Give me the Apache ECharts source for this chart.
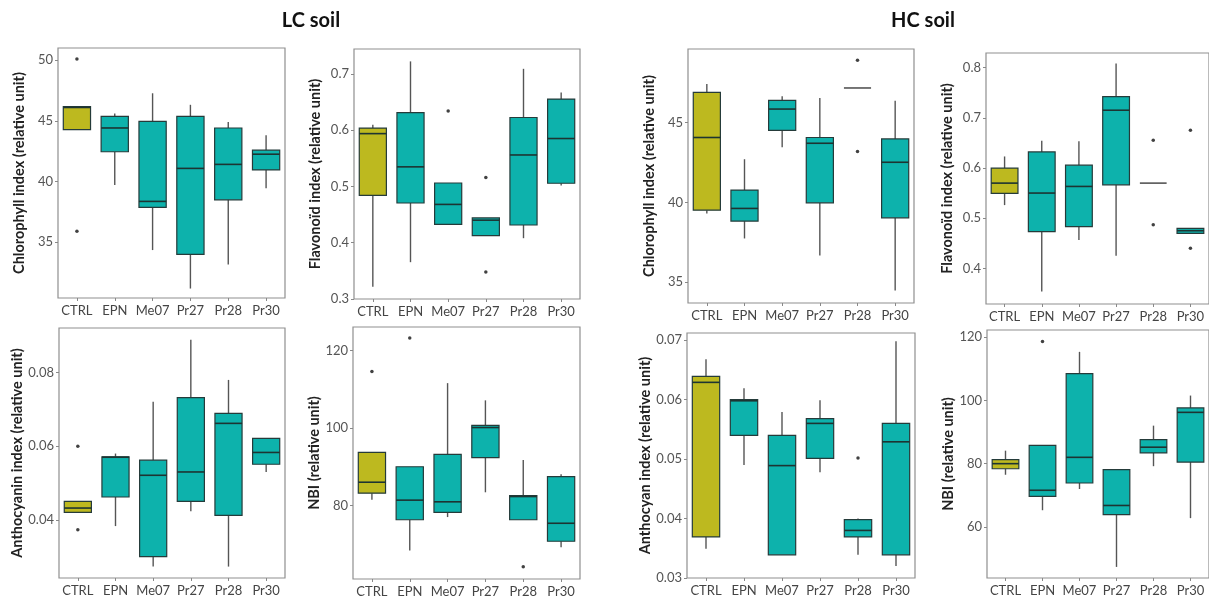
<!DOCTYPE html>
<html>
<head>
<meta charset="utf-8">
<script src="https://cdn.jsdelivr.net/npm/echarts@6/dist/echarts.min.js"></script>
<style>
html,body{margin:0;padding:0;background:#fff;}
#c{width:1209px;height:600px;}
</style>
</head>
<body>
<div id="c"></div>
<script>
// ---------- data ----------
const categories = ['CTRL', 'EPN', 'Me07', 'Pr27', 'Pr28', 'Pr30'];

// each row: [min, Q1, median, Q3, max]
const lcChlorophyll = [
  [44.27, 44.27, 46.10, 46.18, 46.18],
  [39.72, 42.45, 44.41, 45.36, 45.60],
  [34.35, 37.86, 38.36, 44.95, 47.27],
  [31.18, 33.99, 41.08, 45.36, 46.32],
  [33.17, 38.49, 41.41, 44.41, 44.90],
  [39.45, 40.95, 42.25, 42.58, 43.81]
];
const lcChlorophyllOutliers = [[0, 50.1], [0, 35.9]];
const lcChlorophyllTicks = [35, 40, 45, 50];

const lcFlavonoid = [
  [0.3216, 0.4840, 0.5937, 0.6036, 0.6095],
  [0.3654, 0.4705, 0.5347, 0.6310, 0.7220],
  [0.4326, 0.4326, 0.4680, 0.5060, 0.5060],
  [0.4127, 0.4127, 0.4400, 0.4440, 0.4440],
  [0.4080, 0.4314, 0.5558, 0.6223, 0.7088],
  [0.5015, 0.5056, 0.5850, 0.6550, 0.6667]
];
const lcFlavonoidOutliers = [[2, 0.634], [3, 0.516], [3, 0.348]];
const lcFlavonoidTicks = [0.3, 0.4, 0.5, 0.6, 0.7];

const lcAnthocyanin = [
  [0.0420, 0.0420, 0.0432, 0.0450, 0.0450],
  [0.0383, 0.0462, 0.0570, 0.0571, 0.0580],
  [0.0273, 0.0300, 0.0521, 0.0562, 0.0721],
  [0.0423, 0.0450, 0.0530, 0.0732, 0.0889],
  [0.0273, 0.0412, 0.0662, 0.0689, 0.0780],
  [0.0530, 0.0551, 0.0583, 0.0621, 0.0621]
];
const lcAnthocyaninOutliers = [[0, 0.060], [0, 0.0373]];
const lcAnthocyaninTicks = [0.04, 0.06, 0.08];

const lcNBI = [
  [81.46, 83.17, 86.00, 93.70, 93.70],
  [68.35, 76.30, 81.37, 90.00, 90.00],
  [77.00, 78.20, 80.94, 93.20, 111.6],
  [83.40, 92.33, 100.13, 100.7, 107.15],
  [76.30, 76.30, 82.30, 82.57, 91.73],
  [69.20, 70.75, 75.40, 87.45, 88.05]
];
const lcNBIOutliers = [[0, 114.6], [1, 123.25], [4, 64.15]];
const lcNBITicks = [80, 100, 120];

const hcChlorophyll = [
  [39.30, 39.51, 44.06, 46.89, 47.41],
  [37.74, 38.83, 39.62, 40.77, 42.70],
  [43.45, 44.50, 45.84, 46.38, 46.64],
  [36.68, 39.97, 43.70, 44.06, 46.53],
  [47.16, 47.16, 47.16, 47.16, 47.16],
  [34.48, 39.03, 42.51, 43.97, 46.36]
];
const hcChlorophyllOutliers = [[4, 48.9], [4, 43.18]];
const hcChlorophyllTicks = [35, 40, 45];

const hcFlavonoid = [
  [0.5260, 0.5493, 0.5698, 0.5997, 0.6229],
  [0.3540, 0.4730, 0.5500, 0.6320, 0.6540],
  [0.4564, 0.4830, 0.5632, 0.6056, 0.6530],
  [0.4250, 0.5665, 0.7150, 0.7420, 0.8080],
  [0.5698, 0.5698, 0.5698, 0.5698, 0.5698],
  [0.4697, 0.4697, 0.4750, 0.4796, 0.4796]
];
const hcFlavonoidOutliers = [[4, 0.655], [4, 0.487], [5, 0.675], [5, 0.440]];
const hcFlavonoidTicks = [0.4, 0.5, 0.6, 0.7, 0.8];

const hcAnthocyan = [
  [0.0349, 0.0369, 0.0629, 0.0639, 0.0668],
  [0.0490, 0.0540, 0.0598, 0.0600, 0.0619],
  [0.0339, 0.0339, 0.0489, 0.0540, 0.0579],
  [0.0478, 0.0501, 0.0560, 0.0568, 0.0599],
  [0.0339, 0.0369, 0.0380, 0.0398, 0.0400],
  [0.0320, 0.0339, 0.0529, 0.0560, 0.0698]
];
const hcAnthocyanOutliers = [[4, 0.0502]];
const hcAnthocyanTicks = [0.03, 0.04, 0.05, 0.06, 0.07];

const hcNBI = [
  [76.5, 78.4, 80.0, 81.26, 84.1],
  [65.3, 69.7, 71.6, 85.8, 85.8],
  [72.0, 73.9, 82.0, 108.4, 115.3],
  [47.4, 63.9, 66.8, 78.1, 78.1],
  [79.2, 83.4, 85.2, 87.6, 92.0],
  [62.8, 80.5, 96.2, 97.6, 101.5]
];
const hcNBIOutliers = [[1, 118.6]];
const hcNBITicks = [60, 80, 100, 120];

// ---------- style ----------
const OLIVE = '#bdb91f';
const TEAL = '#0db2ac';
const FONT = 'Lato';

const panels = [
  {grid: {left: 58, top: 48, width: 227, height: 250}, name: 'Chlorophyll index (relative unit)', data: lcChlorophyll, out: lcChlorophyllOutliers, ticks: lcChlorophyllTicks, range: [30.4, 51.0]},
  {grid: {left: 354, top: 49, width: 226, height: 250}, name: 'Flavonoïd index (relative unit)', data: lcFlavonoid, out: lcFlavonoidOutliers, ticks: lcFlavonoidTicks, range: [0.3, 0.744]},
  {grid: {left: 59, top: 328, width: 226, height: 250}, name: 'Anthocyanin index (relative unit)', data: lcAnthocyanin, out: lcAnthocyaninOutliers, ticks: lcAnthocyaninTicks, range: [0.0242, 0.0921]},
  {grid: {left: 353, top: 327, width: 227, height: 252}, name: 'NBI (relative unit)', data: lcNBI, out: lcNBIOutliers, ticks: lcNBITicks, range: [61.0, 126.1]},
  {grid: {left: 688, top: 49, width: 226, height: 254}, name: 'Chlorophyll index (relative unit)', data: hcChlorophyll, out: hcChlorophyllOutliers, ticks: hcChlorophyllTicks, range: [33.7, 49.6]},
  {grid: {left: 986, top: 53, width: 223, height: 251}, name: 'Flavonoïd index (relative unit)', data: hcFlavonoid, out: hcFlavonoidOutliers, ticks: hcFlavonoidTicks, range: [0.329, 0.829]},
  {grid: {left: 687, top: 333, width: 228, height: 245}, name: 'Anthocyan index (relative unit)', data: hcAnthocyan, out: hcAnthocyanOutliers, ticks: hcAnthocyanTicks, range: [0.03, 0.0712]},
  {grid: {left: 987, top: 330, width: 222, height: 248}, name: 'NBI (relative unit)', data: hcNBI, out: hcNBIOutliers, ticks: hcNBITicks, range: [43.9, 122.2]}
];

function renderBox(params, api) {
  const i = api.value(0);
  const lo = api.coord([i, api.value(1)]);
  const q1 = api.coord([i, api.value(2)]);
  const md = api.coord([i, api.value(3)]);
  const q3 = api.coord([i, api.value(4)]);
  const hi = api.coord([i, api.value(5)]);
  const w = api.size([1, 0])[0] * 0.72;
  const x = lo[0];
  const fill = i === 0 ? OLIVE : TEAL;
  const whisker = {stroke: '#555', lineWidth: 1.4};
  const children = [
    {type: 'line', shape: {x1: x, y1: hi[1], x2: x, y2: q3[1]}, style: whisker},
    {type: 'line', shape: {x1: x, y1: q1[1], x2: x, y2: lo[1]}, style: whisker}
  ];
  if (q1[1] - q3[1] > 0.5) {
    children.push({type: 'rect', shape: {x: x - w / 2, y: q3[1], width: w, height: q1[1] - q3[1]},
      style: {fill: fill, stroke: '#253b3a', lineWidth: 1.2}});
    children.push({type: 'line', shape: {x1: x - w / 2, y1: md[1], x2: x + w / 2, y2: md[1]},
      style: {stroke: '#1d3432', lineWidth: 1.6}});
  } else {
    children.push({type: 'line', shape: {x1: x - w / 2, y1: md[1], x2: x + w / 2, y2: md[1]},
      style: {stroke: '#555', lineWidth: 1.6}});
  }
  return {type: 'group', children: children};
}

const option = {
  backgroundColor: '#fff',
  animation: false,
  title: [
    {text: 'LC soil', left: 306, top: 6, textAlign: 'center', textStyle: {fontFamily: FONT, fontWeight: 'bold', fontSize: 20, color: '#111'}},
    {text: 'HC soil', left: 918, top: 6, textAlign: 'center', textStyle: {fontFamily: FONT, fontWeight: 'bold', fontSize: 20, color: '#111'}}
  ],
  grid: [], xAxis: [], yAxis: [], series: []
};

panels.forEach((p, k) => {
  option.grid.push(Object.assign({show: true, borderColor: '#8f8f8f', borderWidth: 1.2, backgroundColor: '#fff'}, p.grid));
  option.xAxis.push({
    type: 'category', gridIndex: k, data: categories,
    axisLine: {show: false},
    axisTick: {show: true, alignWithLabel: true, interval: 0, length: 3, lineStyle: {color: '#888'}},
    axisLabel: {fontFamily: FONT, fontSize: 13, color: '#444', margin: 6, interval: 0, hideOverlap: false},
    splitLine: {show: false}
  });
  option.yAxis.push({
    type: 'value', gridIndex: k, min: p.range[0], max: p.range[1],
    name: p.name, nameLocation: 'middle', nameGap: 31, nameRotate: 90,
    nameTextStyle: {fontFamily: FONT, fontWeight: 'bold', fontSize: 14.5, color: '#222'},
    axisLine: {show: false},
    axisTick: {show: true, length: 3, lineStyle: {color: '#888'}, customValues: p.ticks},
    axisLabel: {fontFamily: FONT, fontSize: 13, color: '#555', margin: 5, customValues: p.ticks},
    splitLine: {show: false}
  });
  option.series.push({
    type: 'custom', xAxisIndex: k, yAxisIndex: k,
    renderItem: renderBox,
    encode: {x: 0, y: [1, 2, 3, 4, 5]},
    data: p.data.map((d, i) => [i].concat(d)),
    clip: true
  });
  option.series.push({
    type: 'scatter', xAxisIndex: k, yAxisIndex: k,
    symbolSize: 3.5, itemStyle: {color: '#111'},
    data: p.out
  });
});

const chart = echarts.init(document.getElementById('c'), null, {renderer: 'canvas'});
chart.setOption(option);
</script>
</body>
</html>
